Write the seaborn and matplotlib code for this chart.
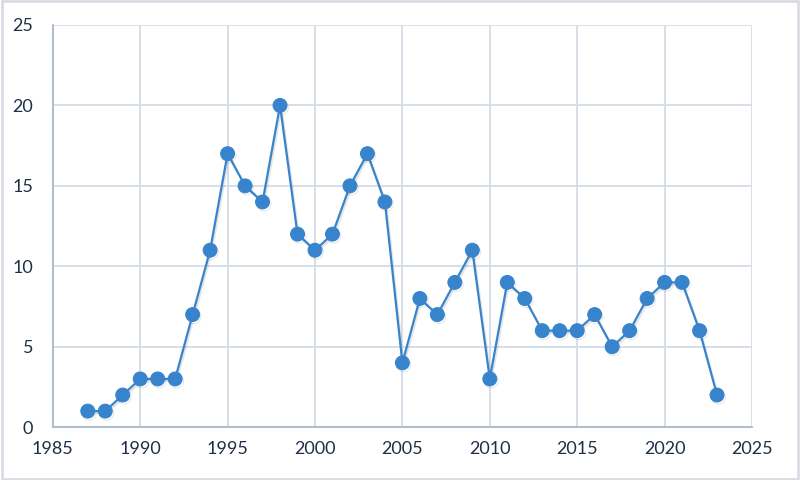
import matplotlib
matplotlib.use("Agg")
import matplotlib.pyplot as plt
import matplotlib.patheffects as pe
import seaborn as sns
import pandas as pd

years = [1987, 1988, 1989, 1990, 1991, 1992, 1993, 1994, 1995, 1996, 1997, 1998,
         1999, 2000, 2001, 2002, 2003, 2004, 2005, 2006, 2007, 2008, 2009, 2010,
         2011, 2012, 2013, 2014, 2015, 2016, 2017, 2018, 2019, 2020, 2021, 2022, 2023]
counts = [1, 1, 2, 3, 3, 3, 7, 11, 17, 15, 14, 20,
          12, 11, 12, 15, 17, 14, 4, 8, 7, 9, 11, 3,
          9, 8, 6, 6, 6, 7, 5, 6, 8, 9, 9, 6, 2]
x_ticks = [1985, 1990, 1995, 2000, 2005, 2010, 2015, 2020, 2025]
y_ticks = [0, 5, 10, 15, 20, 25]

df = pd.DataFrame({"year": years, "count": counts})

sns.set_theme(style="white")
plt.rcParams["font.family"] = ["Lato", "DejaVu Sans"]

fig = plt.figure(figsize=(8, 4.8), dpi=100)
ax = fig.add_axes([0.066, 0.11, 0.874, 0.838])

line_color = "#3784cc"
sns.lineplot(data=df, x="year", y="count", ax=ax, color=line_color, linewidth=1.6,
             marker="o", markersize=10, markeredgecolor=line_color,
             markerfacecolor=line_color,
             path_effects=[pe.SimpleLineShadow(offset=(1, -1.5), shadow_color="#555555", alpha=0.15),
                           pe.Normal()])

ax.set_xlim(x_ticks[0], x_ticks[-1])
ax.set_ylim(y_ticks[0], y_ticks[-1])
ax.set_xticks(x_ticks)
ax.set_yticks(y_ticks)
ax.set_xlabel("")
ax.set_ylabel("")

grid_color = "#d5dce6"
ax.grid(True, color=grid_color, linewidth=1.3)
ax.set_axisbelow(True)
for s in ["top", "right"]:
    ax.spines[s].set_visible(False)
for s in ["left", "bottom"]:
    ax.spines[s].set_color("#a9b8cc")
    ax.spines[s].set_linewidth(1.3)

ax.tick_params(axis="both", length=0, labelsize=13, colors="#1f2f45", pad=10)
ax.tick_params(axis="y", pad=14)

fig.patches.append(plt.Rectangle((0.002, 0.003), 0.996, 0.994, transform=fig.transFigure,
                                 fill=False, edgecolor="#d9dde3", linewidth=2))

fig.savefig("out.png", dpi=100)
